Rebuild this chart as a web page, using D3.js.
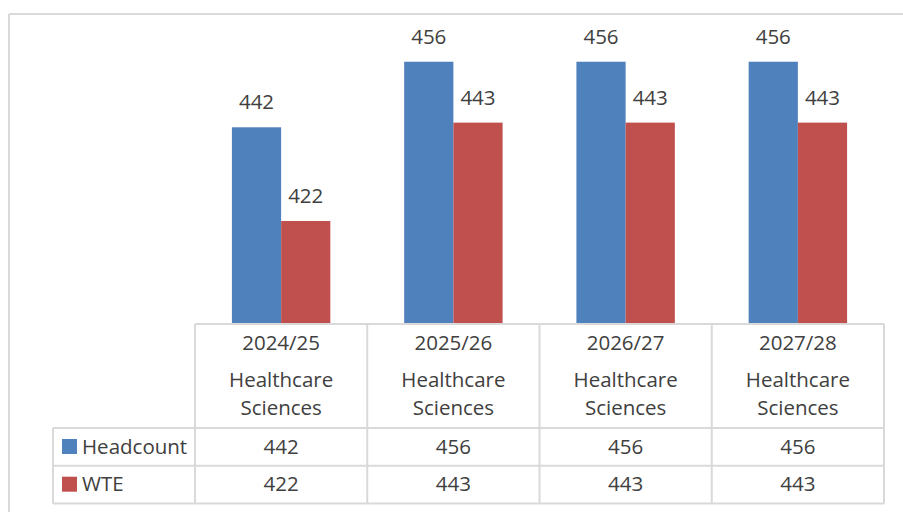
<!DOCTYPE html>
<html>
<head>
<meta charset="utf-8">
<script src="https://cdn.jsdelivr.net/npm/d3@7/dist/d3.min.js"></script>
<style>
  html, body { margin: 0; padding: 0; background: #ffffff; }
  svg { display: block; }
  text { font-family: "Open Sans", "Liberation Sans", sans-serif; fill: #404040; }
</style>
</head>
<body>
<div id="chart"></div>
<script>
// Workforce plan: headcount vs whole-time equivalent by year
const years = ["2024/25", "2025/26", "2026/27", "2027/28"];
const staffGroup = "Healthcare Sciences";
const seriesNames = ["Headcount", "WTE"];
const headcount = [442, 456, 456, 456];
const wte = [422, 443, 443, 443];
const seriesColors = ["#4F81BD", "#C0504D"];
const yDomain = [400, 460];

const W = 903, H = 512;
const svg = d3.select("#chart").append("svg")
  .attr("width", W).attr("height", H);

// chart frame (top and left edges visible)
const frame = svg.append("g");
frame.append("line").attr("x1", 9).attr("x2", W).attr("y1", 14).attr("y2", 14)
  .attr("stroke", "#d9d9d9").attr("stroke-width", 2);
frame.append("line").attr("x1", 9).attr("x2", 9).attr("y1", 14).attr("y2", H)
  .attr("stroke", "#d9d9d9").attr("stroke-width", 2);

// scales
const plotLeft = 195, plotRight = 884;
const x0 = d3.scaleBand().domain(years).range([plotLeft, plotRight]).padding(0);
const barW = x0.bandwidth() / 3.5;   // gap width 150%
const x1 = d3.scaleBand().domain(seriesNames)
  .range([barW * 0.75, barW * 2.75]).padding(0);
const y = d3.scaleLinear().domain(yDomain).range([324, 43]);

const values = { "Headcount": headcount, "WTE": wte };
const rows = years.map((yr, i) => ({
  year: yr,
  vals: seriesNames.map((s, j) => ({ series: s, value: values[s][i], color: seriesColors[j] }))
}));

// bars
const groups = svg.append("g").selectAll("g").data(rows).join("g")
  .attr("transform", d => `translate(${x0(d.year)},0)`);

groups.selectAll("rect").data(d => d.vals).join("rect")
  .attr("x", d => x1(d.series))
  .attr("width", x1.bandwidth())
  .attr("y", d => y(d.value))
  .attr("height", d => y(yDomain[0]) - y(d.value))
  .attr("fill", d => d.color);

// data labels
groups.selectAll("text").data(d => d.vals).join("text")
  .attr("x", d => x1(d.series) + x1.bandwidth() / 2)
  .attr("y", d => y(d.value) - 18)
  .attr("text-anchor", "middle")
  .attr("font-size", 20.5)
  .text(d => d.value);

// data table
const tHeadTop = 324, tHeadBot = 428, rowH = 37.7;
const tableLeft = 53;
const grid = svg.append("g").attr("stroke", "#d9d9d9").attr("stroke-width", 2).attr("fill", "none");
grid.append("line").attr("x1", plotLeft).attr("x2", plotRight).attr("y1", tHeadTop).attr("y2", tHeadTop);
[0, 1, 2].forEach(k => {
  const yy = tHeadBot + k * rowH;
  grid.append("line").attr("x1", tableLeft).attr("x2", plotRight).attr("y1", yy).attr("y2", yy);
});
grid.append("line").attr("x1", tableLeft).attr("x2", tableLeft)
  .attr("y1", tHeadBot).attr("y2", tHeadBot + 2 * rowH);
years.forEach(yr => {
  grid.append("line").attr("x1", x0(yr)).attr("x2", x0(yr))
    .attr("y1", tHeadTop).attr("y2", tHeadBot + 2 * rowH);
});
grid.append("line").attr("x1", plotRight).attr("x2", plotRight)
  .attr("y1", tHeadTop).attr("y2", tHeadBot + 2 * rowH);

// header cells
const head = svg.append("g").attr("text-anchor", "middle").attr("font-size", 20.5);
years.forEach(yr => {
  const cx = x0(yr) + x0.bandwidth() / 2;
  head.append("text").attr("x", cx).attr("y", 350).text(yr);
  const words = staffGroup.split(" ");
  head.append("text").attr("x", cx).attr("y", 387).text(words[0]);
  head.append("text").attr("x", cx).attr("y", 415).text(words[1]);
});

// value rows with legend keys
seriesNames.forEach((s, j) => {
  const rowTop = tHeadBot + j * rowH;
  svg.append("rect").attr("x", 62).attr("y", rowTop + 11).attr("width", 15).attr("height", 15)
    .attr("fill", seriesColors[j]);
  svg.append("text").attr("x", 82).attr("y", rowTop + 25.5).attr("font-size", 20.5).text(s);
  years.forEach((yr, i) => {
    svg.append("text").attr("x", x0(yr) + x0.bandwidth() / 2).attr("y", rowTop + 25.5)
      .attr("text-anchor", "middle").attr("font-size", 20.5).text(values[s][i]);
  });
});
</script>
</body>
</html>
